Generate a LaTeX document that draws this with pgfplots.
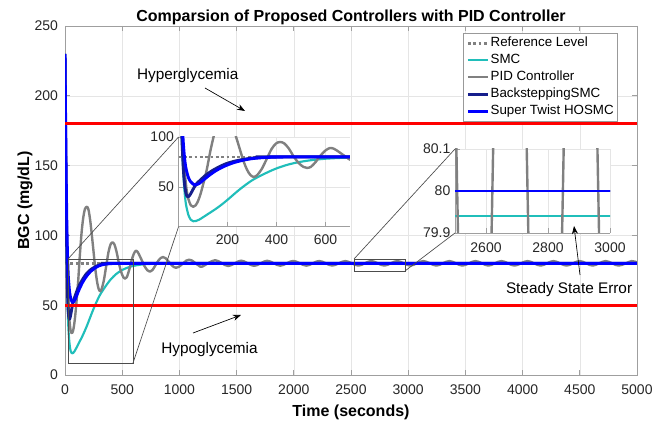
\documentclass[border=0pt]{standalone}
\usepackage{pgfplots}
\pgfplotsset{compat=1.18}
\usepackage{pgfplotstable}
\usepackage{fontspec}
\setmainfont{Liberation Sans}
\usetikzlibrary{arrows.meta}

\definecolor{smc}{RGB}{32,190,186}
\definecolor{pid}{RGB}{128,128,128}
\definecolor{bsmc}{RGB}{22,30,140}
\definecolor{sthosmc}{RGB}{0,0,255}
\definecolor{hypo}{RGB}{255,0,0}

% reference level
\pgfplotstableread{
t v
0 80
2400 80
3100 80
5000 80
}\tabref

% SMC
\pgfplotstableread{
t v
0 230
6 160
12 105
18 70
24 47
30 33
40 22
50 17
60 15.5
72 15.8
85 17.2
100 19.5
125 23.5
150 27.5
175 32
200 37
250 47.5
300 56.5
350 63
400 68.5
450 72.5
500 75.2
550 77
600 78.2
650 78.9
700 79.35
800 79.75
900 79.88
1000 79.92
1200 79.94
2400 79.94
3100 79.94
5000 79.94
}\tabsmc

% PID controller
\pgfplotstableread{
t v
0 230
8 160
16 105
24 70
32 49
40 38
50 31.5
60 30
70 31.5
80 36
90 43
100 52
115 67
130 86
145 102
160 113
175 119
192 120.5
205 118.5
220 111
235 100
250 88
265 76
280 67
293 62
306 60
320 61.5
340 68
360 78
380 88
398 93.5
415 95
432 93.5
450 88.5
470 80.5
490 74
510 70
524 69
540 70
560 75
580 81.5
600 86.5
619 89
636 88
655 85
675 81.5
695 78
720 75
743 74
765 75.2
790 78.5
815 81.8
837 83.8
857 84.5
880 83.6
905 81.3
930 78.9
950 77.4
970 76.8
995 77.5
1030 79.8
1060 81.9
1084 82.6
1110 82.0
1140 80.1
1170 78.4
1198 77.6
1312 82.2
1426 78.1
1540 81.9
1653 78.2
1767 81.8
1881 78.3
1995 81.7
2109 78.35
2222 81.65
2336 78.4
2450 81.6
2564 78.4
2677 81.6
2791 78.4
2905 81.6
3019 78.4
3132 81.6
3246 78.4
3360 81.6
3474 78.4
3588 81.6
3701 78.4
3815 81.6
3929 78.4
4043 81.6
4157 78.4
4270 81.6
4384 78.4
4498 81.6
4612 78.4
4726 81.6
4839 78.4
4953 81.6
5000 80.5
}\tabpid

% Backstepping SMC
\pgfplotstableread{
t v
0 230
5 175
10 128
15 92
20 67
25 52
30 44
35 40.5
40 40
47 42
55 45.5
65 50
75 53.5
90 57
110 61.5
130 65
150 68
190 72.8
230 75.8
260 77.3
300 78.8
350 79.6
400 79.9
450 80
2400 80
3100 80
5000 80
}\tabbsmc

% Super Twist HOSMC
\pgfplotstableread{
t v
0 230
5 185
10 145
15 114
20 92
25 78
30 69
40 59.5
50 55
60 52.6
70 52
85 53.5
100 56.5
125 61.5
150 65.8
175 69.2
200 72
230 74.6
260 76.5
300 78.3
350 79.4
400 79.8
450 79.95
500 80
2400 80
3100 80
5000 80
}\tabst

\pgfplotsset{
  matlab/.style={
    scale only axis,
    grid=major,
    grid style={line width=0.4pt, gray!20},
    axis line style={line width=0.5pt, gray!75},
    tick style={line width=0.5pt, gray!75},
    major tick length=3.5pt,
    tick align=inside,
    ticklabel style={font=\fontsize{10.5}{12}\selectfont, text=black!85},
    /pgf/number format/assume math mode=true,
    /pgf/number format/1000 sep={},
    scaled ticks=false,
  },
  refst/.style={pid, line width=1.8pt, dash pattern=on 2pt off 2pt},
  smcst/.style={smc, line width=1.6pt, smooth, line join=round},
  pidst/.style={pid, line width=1.8pt, smooth, line join=round},
  bsmcst/.style={bsmc, line width=2.2pt, smooth, line join=round},
  stst/.style={sthosmc, line width=2.2pt, smooth, line join=round},
}

\begin{document}
\begin{tikzpicture}
\path[use as bounding box] (0,0) rectangle (500.25pt,317.25pt);

% main axis
\begin{axis}[matlab,
    at={(48.75pt,36pt)}, anchor=south west,
    width=429pt, height=261.75pt,
    xmin=0, xmax=5000, ymin=0, ymax=250,
    xtick={0,500,...,5000}, ytick={0,50,...,250},
    xticklabel style={yshift=-4pt},
    yticklabel style={xshift=-1.75pt},
    title={Comparsion of Proposed Controllers with PID Controller},
    title style={at={(axis description cs:0.5,1.0123)}, anchor=base, yshift=-6pt,
                 inner sep=0pt, font=\bfseries\fontsize{12}{14}\selectfont},
    xlabel={Time (seconds)},
    xlabel style={at={(axis description cs:0.5,-0.1194)}, anchor=base,
                  inner sep=0pt, font=\bfseries\fontsize{12}{14}\selectfont},
    ylabel={BGC (mg/dL)},
    ylabel style={at={(axis description cs:-0.0629,0.5)}, anchor=base,
                  inner sep=0pt, font=\bfseries\fontsize{12}{14}\selectfont},
    legend style={at={(axis description cs:0.9668,0.98)}, anchor=north east,
                  draw=gray!80, line width=0.5pt, fill=white,
                  font=\fontsize{10}{11}\selectfont,
                  nodes={inner sep=1pt, text height=7pt, text depth=2pt},
                  row sep=1.7pt, inner sep=2pt},
    legend cell align=left,
    legend image code/.code={\draw[#1] (0pt,0pt) -- (15pt,0pt);},
  ]
  \addplot[refst] table[x=t,y=v] {\tabref};
  \addplot[smcst] table[x=t,y=v] {\tabsmc};
  \addplot[pidst] table[x=t,y=v] {\tabpid};
  \addplot[bsmcst] table[x=t,y=v] {\tabbsmc};
  \addplot[stst] table[x=t,y=v] {\tabst};
  \legend{Reference Level, SMC, PID Controller, BacksteppingSMC, Super Twist HOSMC}
  \addplot[hypo, line width=2pt, forget plot] coordinates {(0,180) (5000,180)};
  \addplot[hypo, line width=2pt, forget plot] coordinates {(0,50) (5000,50)};
\end{axis}

% inset: transient
\begin{axis}[matlab,
    at={(133.9pt,147.2pt)}, anchor=south west,
    width=128.6pt, height=67.3pt,
    xmin=0, xmax=700, ymin=10, ymax=100,
    xtick={200,400,600}, ytick={50,100},
    axis lines*=left,
    axis background/.style={fill=white},
    xticklabel style={yshift=-2.7pt},
  ]
  \addplot[refst] table[x=t,y=v] {\tabref};
  \addplot[smcst] table[x=t,y=v] {\tabsmc};
  \addplot[pidst] table[x=t,y=v] {\tabpid};
  \addplot[bsmcst] table[x=t,y=v] {\tabbsmc};
  \addplot[stst] table[x=t,y=v] {\tabst};
\end{axis}

% inset: steady state
\begin{axis}[matlab,
    at={(341.25pt,142.5pt)}, anchor=south west,
    width=116.25pt, height=63pt,
    xmin=2500, xmax=3000, ymin=79.9, ymax=80.1,
    xtick={2600,2800,3000}, ytick={79.9,80,80.1},
    yticklabels={79.9,80,80.1},
    axis lines*=left,
    axis background/.style={fill=white},
    xticklabel style={yshift=-4pt},
    restrict x to domain=2300:3200,
  ]
  \addplot[refst] table[x=t,y=v] {\tabref};
  \addplot[smcst] table[x=t,y=v] {\tabsmc};
  \addplot[pidst] table[x=t,y=v] {\tabpid};
  \addplot[bsmcst] table[x=t,y=v] {\tabbsmc};
  \addplot[stst] table[x=t,y=v] {\tabst};
\end{axis}

% zoom boxes and connectors
\draw[black!70, line width=0.5pt] (51pt,45pt) rectangle (99.75pt,123pt);
\draw[black!70, line width=0.5pt] (51pt,123pt) -- (133.9pt,214.5pt);
\draw[black!70, line width=0.5pt] (99.75pt,45pt) -- (133.9pt,147.2pt);
\draw[black!70, line width=0.5pt] (265.5pt,114pt) rectangle (303.75pt,123pt);
\draw[black!70, line width=0.5pt] (265.5pt,123pt) -- (341.25pt,205.5pt);
\draw[black!70, line width=0.5pt] (303.75pt,114pt) -- (341.25pt,142.5pt);

% annotations
\node[anchor=base, inner sep=0pt, font=\fontsize{11.5}{13}\selectfont] at (140.8pt,257.8pt) {Hyperglycemia};
\draw[line width=0.5pt, -{Stealth[length=6pt,width=4.5pt]}] (153.75pt,251.25pt) -- (183.75pt,234pt);
\node[anchor=base, inner sep=0pt, font=\fontsize{11.5}{13}\selectfont] at (157.1pt,52.3pt) {Hypoglycemia};
\draw[line width=0.5pt, -{Stealth[length=6pt,width=4.5pt]}] (144.75pt,67.5pt) -- (180.75pt,81pt);
\node[anchor=base, inner sep=0pt, font=\fontsize{11.5}{13}\selectfont] at (426.8pt,97.3pt) {Steady State Error};
\draw[line width=0.5pt, -{Stealth[length=6pt,width=4.5pt]}] (435pt,111pt) -- (430.5pt,147.75pt);
\end{tikzpicture}
\end{document}
